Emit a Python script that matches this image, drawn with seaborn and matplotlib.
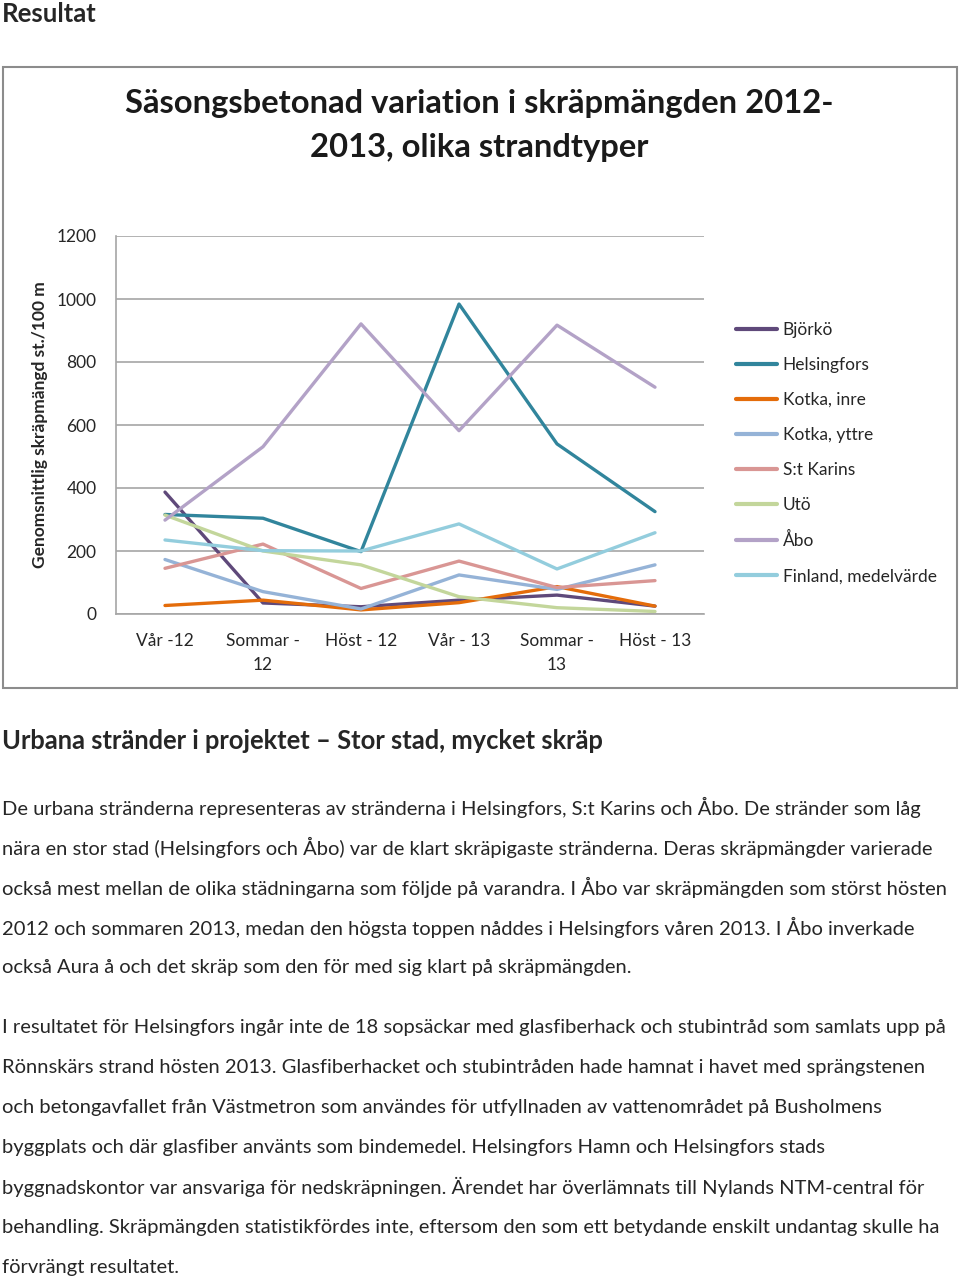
import numpy as np
import pandas as pd
import matplotlib
matplotlib.use("Agg")
import matplotlib.pyplot as plt
from matplotlib.patches import Rectangle
import seaborn as sns

perioder = ["Vår -12", "Sommar -\n12", "Höst - 12", "Vår - 13", "Sommar -\n13", "Höst - 13"]
bjorko = [387, 35, 23, 44, 60, 25]
helsingfors = [316, 304, 198, 984, 540, 325]
kotka_inre = [27, 44, 13, 36, 87, 25]
kotka_yttre = [173, 71, 16, 124, 78, 156]
st_karins = [145, 222, 81, 168, 84, 106]
uto = [314, 200, 156, 55, 20, 8]
abo = [298, 531, 921, 582, 917, 720]
finland = [235, 201, 200, 286, 143, 258]

serier = {
    "Björkö": bjorko,
    "Helsingfors": helsingfors,
    "Kotka, inre": kotka_inre,
    "Kotka, yttre": kotka_yttre,
    "S:t Karins": st_karins,
    "Utö": uto,
    "Åbo": abo,
    "Finland, medelvärde": finland,
}
farger = {
    "Björkö": "#5F497A",
    "Helsingfors": "#31859C",
    "Kotka, inre": "#E46C0A",
    "Kotka, yttre": "#95B3D7",
    "S:t Karins": "#D99694",
    "Utö": "#C3D69B",
    "Åbo": "#B3A2C7",
    "Finland, medelvärde": "#93CDDD",
}

rows = []
for namn, vals in serier.items():
    for i, v in enumerate(vals):
        rows.append({"pos": i, "värde": v, "strand": namn})
df = pd.DataFrame(rows)

sns.set_theme(style="white")
plt.rcParams["font.family"] = ["Lato", "DejaVu Sans"]

fig = plt.figure(figsize=(9.6, 12.8), dpi=100)

# page heading
fig.text(2 / 960, 1 - 14 / 1280, "Resultat", fontsize=18.5, fontweight="bold", va="center", ha="left")

# chart frame
fig.add_artist(Rectangle((3 / 960, 1 - 688 / 1280), 954 / 960, 621 / 1280,
                         transform=fig.transFigure, fill=False, edgecolor="#8c8c8c", lw=1.5))

fig.text(479 / 960, 1 - 104 / 1280, "Säsongsbetonad variation i skräpmängden 2012-",
         fontsize=23.6, fontweight="bold", ha="center", va="center", color="#1a1a1a")
fig.text(479 / 960, 1 - 147 / 1280, "2013, olika strandtyper",
         fontsize=23.6, fontweight="bold", ha="center", va="center", color="#1a1a1a")

ax = fig.add_axes([116 / 960, 1 - 614 / 1280, 588 / 960, 378 / 1280])
sns.lineplot(data=df, x="pos", y="värde", hue="strand", palette=farger,
             hue_order=list(serier.keys()), linewidth=2.4, sort=False, ax=ax)

ax.set_xlim(-0.5, 5.5)
ax.set_ylim(0, 1200)
ax.set_yticks(range(0, 1201, 200))
ax.set_xticks(range(len(perioder)))
ax.set_xticklabels(perioder, fontsize=12.5, linespacing=1.55)
ax.tick_params(axis="y", labelsize=12.5, pad=14, length=0)
ax.tick_params(axis="x", pad=14, length=0)
ax.yaxis.grid(True, color="#a6a6a6", lw=1.2)
ax.set_axisbelow(True)
for s in ["top", "right"]:
    ax.spines[s].set_visible(False)
for s in ["left", "bottom"]:
    ax.spines[s].set_color("#a6a6a6")
    ax.spines[s].set_linewidth(1.2)
ax.set_xlabel("")
ax.set_ylabel("")
fig.text(40 / 960, 1 - 425 / 1280, "Genomsnittlig skräpmängd st./100 m", rotation=90,
         fontsize=12.5, fontweight="bold", ha="center", va="center")

leg = ax.legend(loc="upper left", bbox_to_anchor=(727 / 960, 1 - 313 / 1280),
                bbox_transform=fig.transFigure, frameon=False, fontsize=12.5,
                handlelength=2.4, handletextpad=0.3, labelspacing=1.1, borderpad=0)
for h in leg.get_lines():
    h.set_linewidth(3)

# body text
fig.text(2 / 960, 1 - 741 / 1280, "Urbana stränder i projektet – Stor stad, mycket skräp",
         fontsize=18.4, fontweight="bold", va="center", ha="left")

stycke1 = [
    "De urbana stränderna representeras av stränderna i Helsingfors, S:t Karins och Åbo. De stränder som låg",
    "nära en stor stad (Helsingfors och Åbo) var de klart skräpigaste stränderna. Deras skräpmängder varierade",
    "också mest mellan de olika städningarna som följde på varandra. I Åbo var skräpmängden som störst hösten",
    "2012 och sommaren 2013, medan den högsta toppen nåddes i Helsingfors våren 2013. I Åbo inverkade",
    "också Aura å och det skräp som den för med sig klart på skräpmängden.",
]
stycke2 = [
    "I resultatet för Helsingfors ingår inte de 18 sopsäckar med glasfiberhack och stubintråd som samlats upp på",
    "Rönnskärs strand hösten 2013. Glasfiberhacket och stubintråden hade hamnat i havet med sprängstenen",
    "och betongavfallet från Västmetron som användes för utfyllnaden av vattenområdet på Busholmens",
    "byggplats och där glasfiber använts som bindemedel. Helsingfors Hamn och Helsingfors stads",
    "byggnadskontor var ansvariga för nedskräpningen. Ärendet har överlämnats till Nylands NTM-central för",
    "behandling. Skräpmängden statistikfördes inte, eftersom den som ett betydande enskilt undantag skulle ha",
    "förvrängt resultatet.",
]
for i, rad in enumerate(stycke1):
    fig.text(2 / 960, 1 - (807 + 40 * i) / 1280, rad, fontsize=14.5, va="center", ha="left")
for i, rad in enumerate(stycke2):
    fig.text(2 / 960, 1 - (1027 + 40 * i) / 1280, rad, fontsize=14.5, va="center", ha="left")

fig.savefig("out.png", dpi=100)
